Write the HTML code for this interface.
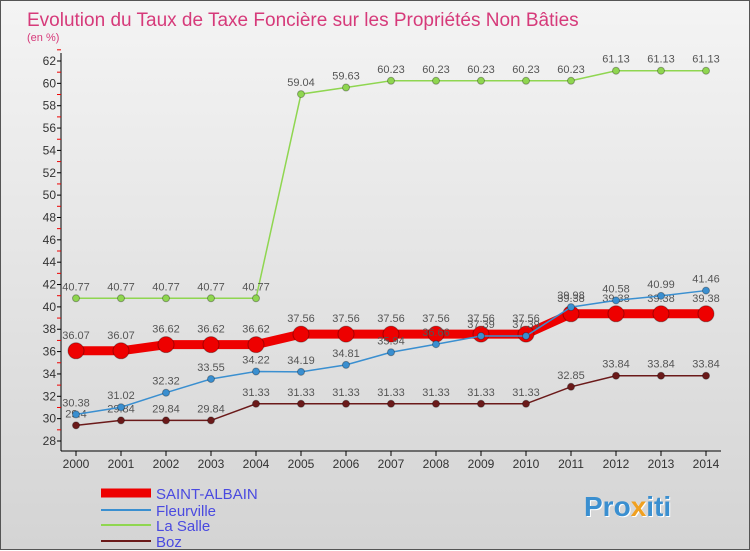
<!DOCTYPE html>
<html><head><meta charset="utf-8"><style>
body{margin:0;width:750px;height:550px;overflow:hidden;font-family:"Liberation Sans",sans-serif}
#wrap{position:relative;width:748px;height:548px;border:1px solid #555;background:linear-gradient(#f4f4f4,#d4d4d4)}
svg{position:absolute;left:0;top:0}
</style></head><body>
<div id="wrap">
<svg id="chart" width="750" height="550">
<text x="26" y="25" font-size="19" fill="#d63a7a">Evolution du Taux de Taxe Foncière sur les Propriétés Non Bâties</text>
<text x="26" y="40" font-size="11" fill="#d63a7a">(en %)</text>
<g id="axes"></g><g id="series"></g><g id="legend"></g>
<text x="583" y="515" font-size="28" font-weight="bold" fill="#3a8fd0" style="text-shadow:1px 1px 0 #fff">Pro<tspan fill="#f0a020">x</tspan>iti</text>
</svg></div>
<script>
const years=[2000,2001,2002,2003,2004,2005,2006,2007,2008,2009,2010,2011,2012,2013,2014];
const yTicks=[28,30,32,34,36,38,40,42,44,46,48,50,52,54,56,58,60,62];
const seriesNames=["SAINT-ALBAIN","Fleurville","La Salle","Boz"];
const saintAlbain=[36.07,36.07,36.62,36.62,36.62,37.56,37.56,37.56,37.56,37.56,37.56,39.38,39.38,39.38,39.38];
const fleurville=[30.38,31.02,32.32,33.55,34.22,34.19,34.81,35.94,36.66,37.39,37.39,39.98,40.58,40.99,41.46];
const laSalle=[40.77,40.77,40.77,40.77,40.77,59.04,59.63,60.23,60.23,60.23,60.23,60.23,61.13,61.13,61.13];
const boz=[29.4,29.84,29.84,29.84,31.33,31.33,31.33,31.33,31.33,31.33,31.33,32.85,33.84,33.84,33.84];
const NS="http://www.w3.org/2000/svg";
const X=i=>75+i*45, Y=v=>440-(v-28)*(380/34);
function mk(t,a,p){const e=document.createElementNS(NS,t);for(const k in a)e.setAttribute(k,a[k]);p.appendChild(e);return e;}
const ax=document.getElementById('axes');
let l=mk('line',{x1:60,y1:52,x2:60,y2:450,stroke:'#000'},ax);


l=mk('line',{x1:60,y1:450,x2:720,y2:450,stroke:'#000'},ax);


yTicks.forEach(v=>{
 mk('line',{x1:56,y1:Y(v),x2:60,y2:Y(v),stroke:'#000'},ax);
 mk('line',{x1:56,y1:Y(v+1),x2:60,y2:Y(v+1),stroke:'#e00'},ax);
 const t=mk('text',{x:55,y:Y(v)+4,'font-size':12,'text-anchor':'end',fill:'#333'},ax);t.textContent=v;
 
 
});
years.forEach((y,i)=>{
 mk('line',{x1:X(i),y1:450,x2:X(i),y2:455,stroke:'#000'},ax);
 const t=mk('text',{x:X(i),y:467,'font-size':12,'text-anchor':'middle',fill:'#333'},ax);t.textContent=y;
 
 
});
const sg=document.getElementById('series');
function draw(data,color,w,r,name){
 const g=mk('g',{},sg);
 
 
 mk('polyline',{points:data.map((v,i)=>X(i)+','+Y(v)).join(' '),fill:'none',stroke:color,'stroke-width':w},g);
 data.forEach((v,i)=>{
  const c=mk('circle',{cx:X(i),cy:Y(v),r:r,fill:color,stroke:'rgba(0,0,0,0.3)'},g);
  
  
  const t=mk('text',{x:X(i),y:Y(v)-8-(r>5?4:0),'font-size':11,'text-anchor':'middle',fill:'#555'},g);t.textContent=v.toFixed(2).replace(/0$/,'').replace(/\.$/,'');
  
  
 });
}
draw(laSalle,'#8fd650',1.5,3.5,'la-salle');
draw(boz,'#6b1a1a',1.5,3.5,'boz');
draw(saintAlbain,'#ee0000',9,8,'saint-albain');
draw(fleurville,'#3a8fd0',1.5,3.5,'fleurville');
const lg=document.getElementById('legend');
const cols=['#ee0000','#3a8fd0','#8fd650','#6b1a1a'],ws=[9,2,2,2],ys=[492,509,524,540];
seriesNames.forEach((n,i)=>{
 const g=mk('g',{},lg);
 
 
 mk('line',{x1:100,y1:ys[i],x2:150,y2:ys[i],stroke:cols[i],'stroke-width':ws[i]},g);
 const t=mk('text',{x:155,y:ys[i]+6,'font-size':15,fill:'#4a4ae0'},g);t.textContent=n;
});
</script>
</body></html>
